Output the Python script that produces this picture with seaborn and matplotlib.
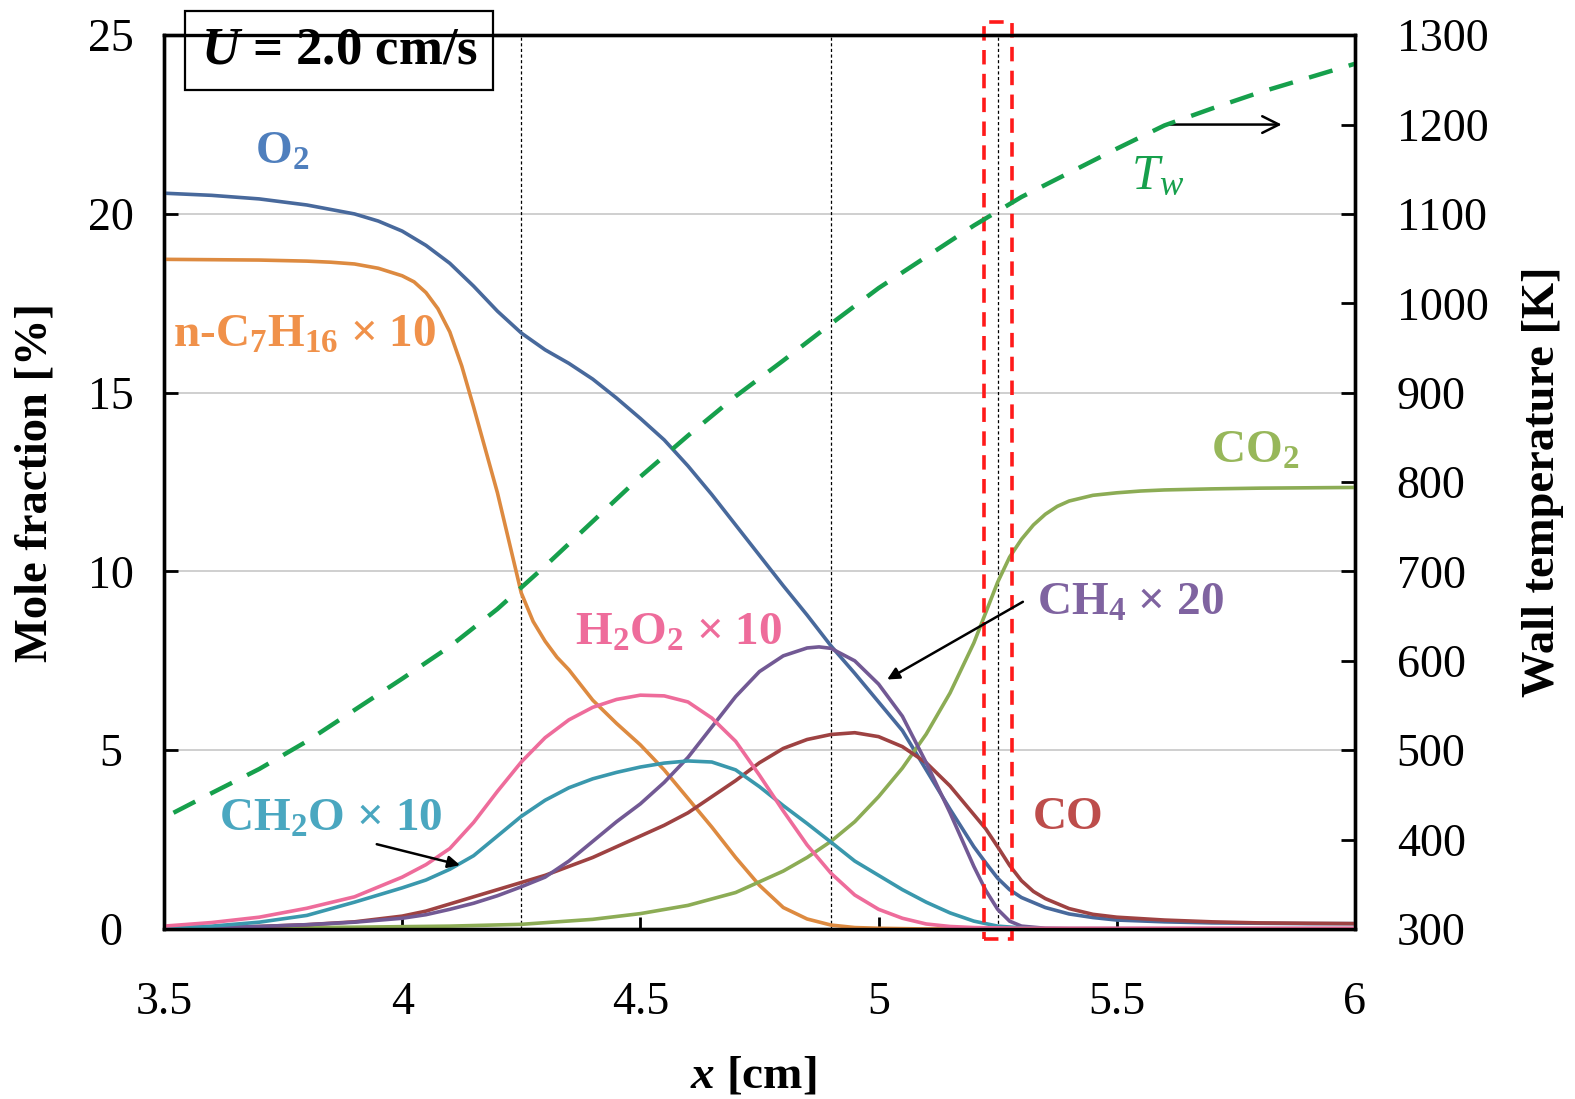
import numpy as np
import pandas as pd
import matplotlib
matplotlib.use("Agg")
import matplotlib.pyplot as plt
import seaborn as sns
from matplotlib.patches import Rectangle

# ---------------- data ----------------
o2_x = [3.5, 3.6, 3.7, 3.8, 3.9, 3.95, 4.0, 4.05, 4.1, 4.15, 4.2, 4.25, 4.3, 4.35,
        4.4, 4.45, 4.5, 4.55, 4.6, 4.65, 4.7, 4.75, 4.8, 4.85, 4.9, 4.95, 5.0,
        5.05, 5.1, 5.15, 5.2, 5.225, 5.25, 5.275, 5.3, 5.35, 5.4, 5.45, 5.5, 5.6,
        5.7, 5.8, 5.9, 6.0]
o2 = [20.58, 20.52, 20.42, 20.25, 20.0, 19.8, 19.52, 19.12, 18.62, 17.98, 17.28,
      16.67, 16.2, 15.82, 15.38, 14.85, 14.28, 13.68, 12.95, 12.15, 11.3, 10.45,
      9.6, 8.78, 7.92, 7.15, 6.35, 5.55, 4.45, 3.35, 2.3, 1.85, 1.42, 1.1, 0.88,
      0.6, 0.42, 0.32, 0.25, 0.2, 0.17, 0.16, 0.15, 0.15]

nc7_x = [3.5, 3.6, 3.7, 3.8, 3.85, 3.9, 3.95, 4.0, 4.025, 4.05, 4.075, 4.1, 4.125,
         4.15, 4.175, 4.2, 4.225, 4.25, 4.275, 4.3, 4.325, 4.35, 4.4, 4.45, 4.5,
         4.55, 4.6, 4.65, 4.7, 4.75, 4.8, 4.85, 4.9, 4.95, 5.0, 5.1, 5.3, 6.0]
nc7h16_x10 = [18.73, 18.72, 18.71, 18.68, 18.65, 18.6, 18.48, 18.27, 18.1, 17.8,
              17.35, 16.7, 15.75, 14.6, 13.4, 12.2, 10.8, 9.4, 8.6, 8.05, 7.6,
              7.25, 6.4, 5.75, 5.15, 4.45, 3.65, 2.85, 2.0, 1.22, 0.6, 0.28, 0.11,
              0.04, 0.02, 0.0, 0.0, 0.0]

co2_x = [3.5, 3.7, 3.9, 4.1, 4.25, 4.4, 4.5, 4.6, 4.7, 4.8, 4.85, 4.9, 4.95, 5.0,
         5.05, 5.1, 5.15, 5.2, 5.225, 5.25, 5.275, 5.3, 5.325, 5.35, 5.375, 5.4,
         5.45, 5.5, 5.55, 5.6, 5.7, 5.8, 6.0]
co2 = [0.02, 0.03, 0.05, 0.08, 0.13, 0.27, 0.43, 0.66, 1.02, 1.62, 2.0, 2.45, 3.0,
       3.7, 4.5, 5.45, 6.6, 8.0, 8.85, 9.7, 10.4, 10.9, 11.3, 11.6, 11.82, 11.97,
       12.13, 12.2, 12.25, 12.28, 12.31, 12.33, 12.35]

co_x = [3.5, 3.6, 3.7, 3.8, 3.9, 4.0, 4.05, 4.1, 4.15, 4.2, 4.25, 4.3, 4.35, 4.4,
        4.45, 4.5, 4.55, 4.6, 4.65, 4.7, 4.75, 4.8, 4.85, 4.9, 4.95, 5.0, 5.05,
        5.1, 5.15, 5.2, 5.225, 5.25, 5.275, 5.3, 5.325, 5.35, 5.4, 5.45, 5.5,
        5.6, 5.7, 5.8, 6.0]
co = [0.02, 0.04, 0.07, 0.12, 0.2, 0.36, 0.5, 0.7, 0.9, 1.1, 1.3, 1.5, 1.75, 2.0,
      2.3, 2.6, 2.9, 3.25, 3.7, 4.15, 4.65, 5.05, 5.3, 5.44, 5.49, 5.38, 5.1,
      4.65, 4.0, 3.2, 2.8, 2.3, 1.78, 1.35, 1.05, 0.85, 0.57, 0.41, 0.33, 0.25,
      0.2, 0.17, 0.15]

ch4_x = [3.5, 3.6, 3.7, 3.8, 3.9, 4.0, 4.05, 4.1, 4.15, 4.2, 4.25, 4.3, 4.35, 4.4,
         4.45, 4.5, 4.55, 4.6, 4.65, 4.7, 4.75, 4.8, 4.85, 4.875, 4.9, 4.95, 5.0,
         5.05, 5.1, 5.15, 5.175, 5.2, 5.225, 5.25, 5.275, 5.3, 5.35, 5.4, 6.0]
ch4_x20 = [0.02, 0.04, 0.07, 0.12, 0.19, 0.3, 0.4, 0.55, 0.72, 0.93, 1.18, 1.45,
           1.9, 2.45, 3.0, 3.5, 4.1, 4.8, 5.65, 6.5, 7.2, 7.64, 7.86, 7.89, 7.85,
           7.5, 6.85, 5.95, 4.65, 3.25, 2.5, 1.75, 1.08, 0.55, 0.22, 0.08, 0.02,
           0.01, 0.01]

ch2o_x = [3.5, 3.6, 3.7, 3.8, 3.9, 3.95, 4.0, 4.05, 4.1, 4.15, 4.2, 4.25, 4.3,
          4.35, 4.4, 4.45, 4.5, 4.55, 4.6, 4.65, 4.7, 4.75, 4.8, 4.85, 4.9, 4.95,
          5.0, 5.05, 5.1, 5.15, 5.2, 5.25, 5.3, 5.35, 6.0]
ch2o_x10 = [0.03, 0.08, 0.19, 0.38, 0.75, 0.95, 1.15, 1.37, 1.67, 2.05, 2.6, 3.15,
            3.6, 3.95, 4.2, 4.38, 4.53, 4.64, 4.7, 4.67, 4.45, 3.98, 3.45, 2.95,
            2.43, 1.9, 1.5, 1.1, 0.75, 0.45, 0.22, 0.08, 0.03, 0.01, 0.0]

h2o2_x = [3.5, 3.6, 3.7, 3.8, 3.9, 4.0, 4.05, 4.1, 4.15, 4.2, 4.25, 4.3, 4.35, 4.4,
          4.45, 4.5, 4.55, 4.6, 4.65, 4.7, 4.75, 4.8, 4.85, 4.9, 4.95, 5.0, 5.05,
          5.1, 5.15, 5.2, 5.3, 6.0]
h2o2_x10 = [0.08, 0.18, 0.33, 0.58, 0.9, 1.45, 1.8, 2.25, 2.98, 3.85, 4.67, 5.35,
            5.85, 6.2, 6.42, 6.54, 6.52, 6.35, 5.9, 5.25, 4.3, 3.3, 2.35, 1.56,
            0.95, 0.55, 0.3, 0.14, 0.07, 0.04, 0.02, 0.02]

tw_x = [3.52, 3.6, 3.7, 3.8, 3.9, 4.0, 4.1, 4.2, 4.3, 4.4, 4.5, 4.6, 4.7, 4.8,
        4.9, 5.0, 5.1, 5.2, 5.3, 5.4, 5.5, 5.6, 5.7, 5.8, 5.9, 6.0]
tw_K = [430, 452, 479, 510, 545, 580, 616, 658, 706, 756, 806, 852, 896, 936,
        977, 1017, 1052, 1087, 1119, 1146, 1173, 1199, 1218, 1236, 1252, 1268]

marker_x = [4.25, 4.9, 5.25]
box_x = [5.2215, 5.2805]

xticks = [3.5, 4.0, 4.5, 5.0, 5.5, 6.0]
xticklabels = ["3.5", "4", "4.5", "5", "5.5", "6"]
yticks_left = [0, 5, 10, 15, 20, 25]
yticks_right = [300, 400, 500, 600, 700, 800, 900, 1000, 1100, 1200, 1300]

# ---------------- style ----------------
sns.set_theme(style="white")
plt.rcParams["font.family"] = ["Liberation Serif", "DejaVu Serif"]
plt.rcParams["text.color"] = "black"
plt.rcParams["axes.labelcolor"] = "black"
plt.rcParams["mathtext.fontset"] = "custom"
plt.rcParams["mathtext.rm"] = "Liberation Serif"
plt.rcParams["mathtext.bf"] = "Liberation Serif:bold"
plt.rcParams["mathtext.it"] = "Liberation Serif:italic:bold"
plt.rcParams["mathtext.sf"] = "Liberation Serif:italic"

series = [
    (o2_x, o2, "#48699c"),
    (nc7_x, nc7h16_x10, "#dd8a40"),
    (co2_x, co2, "#8cac55"),
    (co_x, co, "#9e4242"),
    (ch4_x, ch4_x20, "#725994"),
    (ch2o_x, ch2o_x10, "#3a98ad"),
    (h2o2_x, h2o2_x10, "#ee6c9b"),
]

fig = plt.figure(figsize=(15.75, 10.99), dpi=100)
ax = fig.add_axes([0.1041, 0.1547, 0.7562, 0.8133])

for xs, vals, col in series:
    df = pd.DataFrame({"x": xs, "y": vals})
    sns.lineplot(data=df, x="x", y="y", ax=ax, color=col, lw=2.6,
                 estimator=None, sort=False, legend=False, zorder=3)

ax.set_xlim(3.5, 6.0)
ax.set_ylim(0, 25)
ax.set_xticks(xticks)
ax.set_xticklabels(xticklabels)
ax.set_yticks(yticks_left)
ax.yaxis.grid(True, color="#cfcfcf", lw=1.4)
ax.xaxis.grid(False)
ax.set_axisbelow(True)

for xv in marker_x:
    ax.axvline(xv, color="black", lw=0.9, ls=(0, (2.5, 2)), zorder=2)

ax.add_patch(Rectangle((box_x[0], -0.28), box_x[1] - box_x[0], 25.65,
                       fill=False, ec="#ff1a1a", lw=2.6, ls=(0, (4, 2.6)),
                       clip_on=False, zorder=6))

for sp in ax.spines.values():
    sp.set_color("black")
    sp.set_linewidth(2.4)

ax.tick_params(axis="x", direction="in", length=9, width=2, pad=38,
               labelsize=33, colors="black", top=False, bottom=True)
ax.tick_params(axis="y", direction="in", length=10, width=2, pad=38,
               labelsize=33, colors="black", left=True)
for lab in ax.get_yticklabels():
    lab.set_horizontalalignment("center")

ax.set_xlabel(r"$\mathit{x}$ [cm]", fontsize=34, fontweight="bold", va="center")
ax.xaxis.set_label_coords(0.495, -0.165)
ax.set_ylabel("Mole fraction [%]", fontsize=33.5, fontweight="bold", va="center")
ax.yaxis.set_label_coords(-0.108, 0.5)

# right axis: wall temperature
ax2 = ax.twinx()
dft = pd.DataFrame({"x": tw_x, "T": tw_K})
sns.lineplot(data=dft, x="x", y="T", ax=ax2, color="#16a04c", lw=3.2,
             estimator=None, sort=False, legend=False)
ax2.lines[0].set_linestyle((0, (5.5, 3.8)))
ax2.set_ylim(300, 1300)
ax2.set_yticks(yticks_right)
ax2.set_xlim(3.5, 6.0)
ax2.grid(False)
for sp in ax2.spines.values():
    sp.set_color("black")
    sp.set_linewidth(2.4)
ax2.tick_params(axis="y", direction="in", length=10, width=2, pad=30,
                labelsize=33, colors="black", right=True)
ax2.set_ylabel("Wall temperature [K]", fontsize=33.5, fontweight="bold",
               rotation=90, va="center")
ax2.yaxis.set_label_coords(1.158, 0.5)

# ---------------- annotations ----------------
lab_kw = dict(fontsize=34, fontweight="bold", va="center", zorder=7)
ax.text(3.747, 21.7, r"O$_\mathbf{2}$", color="#4f7fbd", ha="center", **lab_kw)
ax.text(3.519, 16.6, r"n-C$_\mathbf{7}$H$_\mathbf{16}$ × 10", color="#f0914a",
        ha="left", **lab_kw)
ax.text(4.363, 8.25, r"H$_\mathbf{2}$O$_\mathbf{2}$ × 10", color="#ee6c9b",
        ha="left", **lab_kw)
ax.text(3.616, 3.05, r"CH$_\mathbf{2}$O × 10", color="#4aa7c0", ha="left",
        **lab_kw)
ax.text(5.333, 9.1, r"CH$_\mathbf{4}$ × 20", color="#7f63a0", ha="left", **lab_kw)
ax.text(5.323, 3.1, "CO", color="#bd4d4b", ha="left", **lab_kw)
ax.text(5.698, 13.35, r"CO$_\mathbf{2}$", color="#97b75a", ha="left", **lab_kw)
ax.text(5.529, 21.05, r"$\mathsf{T}_\mathsf{w}$", color="#16a04c", ha="left",
        fontsize=36, va="center", zorder=7)

ax.annotate("", xy=(5.852, 22.5), xytext=(5.603, 22.5),
            arrowprops=dict(arrowstyle="->", lw=1.8, color="black",
                            mutation_scale=30), zorder=7)
ax.annotate("", xy=(4.127, 1.77), xytext=(3.941, 2.39),
            arrowprops=dict(arrowstyle="-|>", lw=1.8, color="black",
                            mutation_scale=18), zorder=7)
ax.annotate("", xy=(5.013, 6.94), xytext=(5.308, 9.19),
            arrowprops=dict(arrowstyle="-|>", lw=1.8, color="black",
                            mutation_scale=18), zorder=7)

ax.text(0.147, 0.983, r"$\mathit{U}$ = 2.0 cm/s", transform=ax.transAxes,
        fontsize=38, fontweight="bold", ha="center", va="center", zorder=8,
        bbox=dict(boxstyle="square,pad=0.3", fc="white", ec="black", lw=1.6))

fig.savefig("out.png", dpi=100)
